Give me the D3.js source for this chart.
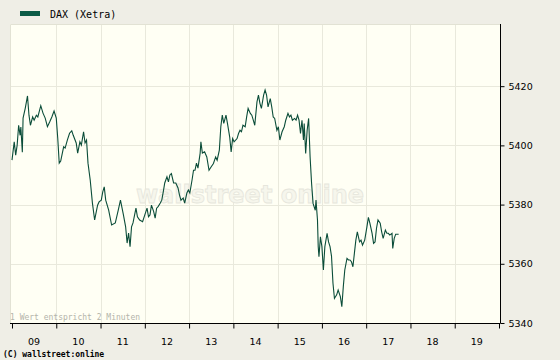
<!DOCTYPE html>
<html>
<head>
<meta charset="utf-8">
<script src="https://cdn.jsdelivr.net/npm/d3@7"></script>
<style>
  body { margin: 0; background: #efeee6; }
  svg { display: block; }
</style>
</head>
<body>
<div id="chart"></div>
<script>
// DAX (Xetra) intraday, minutes after 09:00 open and index level
var seriesName = "DAX (Xetra)";
var minutesAfterOpen = [
  0, 3, 5, 7, 9, 11, 12, 14, 15, 18, 21, 23, 25, 28, 30, 33, 35, 39, 42, 45,
  48, 51, 54, 57, 60, 62, 64, 66, 70, 72, 75, 78, 81, 83, 87, 89, 92, 94, 97, 99,
  101, 103, 106, 109, 112, 116, 118, 121, 123, 125, 127, 131, 135, 140, 144, 147, 151, 154, 156, 158,
  160, 162, 164, 168, 170, 173, 177, 180, 183, 185, 187, 189, 192, 194, 196, 198, 201, 203, 205, 207,
  210, 212, 214, 216, 219, 222, 225, 227, 229, 232, 234, 237, 239, 241, 244, 246, 248, 250, 252, 255,
  256, 258, 261, 264, 267, 270, 273, 276, 278, 281, 283, 285, 287, 290, 292, 295, 297, 299, 301, 305,
  307, 309, 311, 313, 316, 318, 320, 323, 325, 327, 329, 332, 334, 336, 338, 341, 343, 345, 347, 350,
  352, 354, 356, 359, 361, 363, 366, 369, 371, 374, 376, 378, 380, 383, 385, 387, 389, 391, 393, 395,
  396, 398, 400, 402, 404, 406, 408, 411, 412, 414, 415, 416, 418, 420, 422, 424, 427, 429, 431, 433,
  435, 437, 440, 442, 445, 447, 449, 451, 454, 456, 458, 460, 462, 464, 466, 468, 471, 473, 475, 478,
  481, 483, 485, 488, 490, 492, 494, 496, 499, 501, 503, 506, 508, 510, 512, 515, 516, 518, 520, 524
];
var values = [
  5395.0, 5401.2, 5396.7, 5400.1, 5406.8, 5403.4, 5406.2, 5397.7, 5409.2, 5412.6, 5416.7, 5410.2, 5406.8, 5409.6, 5408.5, 5410.2, 5409.6, 5413.4, 5410.9, 5409.2,
  5406.3, 5407.9, 5409.6, 5411.6, 5409.2, 5402.4, 5394.0, 5394.7, 5399.5, 5399.1, 5401.8, 5404.1, 5404.9, 5403.4, 5400.8, 5397.4, 5401.2, 5400.1, 5404.6, 5400.8,
  5401.8, 5394.0, 5388.3, 5380.5, 5374.8, 5379.8, 5380.9, 5381.5, 5384.3, 5386.0, 5381.5, 5378.1, 5373.1, 5373.8, 5378.1, 5381.5, 5376.5, 5372.5, 5367.0, 5370.4,
  5365.8, 5372.5, 5373.8, 5378.8, 5375.9, 5374.8, 5374.2, 5376.5, 5378.8, 5375.9, 5376.5, 5379.8, 5377.6, 5375.4, 5378.8, 5379.3, 5380.5, 5381.5, 5384.3, 5387.3,
  5389.4, 5387.7, 5390.0, 5390.5, 5387.3, 5387.3, 5385.6, 5383.2, 5381.5, 5382.2, 5380.5, 5383.9, 5384.9, 5383.9, 5388.3, 5391.6, 5391.6, 5394.0, 5392.3, 5397.4,
  5401.2, 5397.4, 5397.8, 5396.1, 5391.6, 5392.8, 5393.9, 5396.1, 5395.0, 5398.4, 5406.3, 5410.2, 5407.4, 5410.2, 5407.4, 5402.9, 5397.8, 5402.3, 5401.2, 5402.3,
  5404.0, 5405.1, 5404.6, 5406.8, 5406.3, 5409.6, 5412.5, 5410.8, 5410.2, 5408.5, 5406.8, 5414.7, 5417.0, 5414.2, 5412.5, 5417.0, 5418.7, 5417.0, 5413.0, 5415.8,
  5413.0, 5409.6, 5409.1, 5405.1, 5406.3, 5401.8, 5404.6, 5406.3, 5408.5, 5410.8, 5409.6, 5410.2, 5408.5, 5409.1, 5408.5, 5410.2, 5408.5, 5404.0, 5408.5, 5401.8,
  5407.4, 5397.3, 5405.1, 5409.1, 5396.1, 5387.2, 5380.4, 5378.1, 5381.5, 5374.8, 5365.8, 5362.4, 5369.1, 5365.8, 5357.9, 5365.8, 5370.3, 5367.4, 5365.8, 5362.6,
  5353.4, 5348.3, 5349.5, 5351.1, 5348.9, 5345.5, 5352.3, 5357.9, 5361.8, 5361.3, 5361.3, 5360.7, 5359.0, 5363.5, 5368.0, 5370.8, 5367.4, 5368.0, 5366.3, 5368.0,
  5372.5, 5375.7, 5373.7, 5370.3, 5366.9, 5367.4, 5372.0, 5374.8, 5373.7, 5370.8, 5368.6, 5371.4, 5370.3, 5370.3, 5369.7, 5370.3, 5365.2, 5368.6, 5370.0, 5370.0
];
var hourLabels = ["09", "10", "11", "12", "13", "14", "15", "16", "17", "18", "19"];
var yTicks = [5340, 5360, 5380, 5400, 5420];

var width = 560, height = 360;
var plot = { left: 10, right: 500, top: 24, bottom: 323 };

var svg = d3.select("#chart").append("svg")
    .attr("width", width)
    .attr("height", height);

svg.append("rect")
    .attr("width", width).attr("height", height)
    .attr("fill", "#efeee6");

// x: minutes after 09:00, one band per hour label
var x = d3.scaleLinear()
    .domain([0, hourLabels.length * 60])
    .range([plot.left + 2, plot.right - 1]);

var y = d3.scaleLinear()
    .domain([5340, 5441])
    .range([plot.bottom, plot.top]);

var hourEdges = d3.range(0, hourLabels.length + 1).map(function (i) { return i * 60; });

// plot background
svg.append("rect")
    .attr("x", plot.left)
    .attr("y", plot.top)
    .attr("width", plot.right - plot.left)
    .attr("height", plot.bottom - plot.top)
    .attr("fill", "#fffff4");

// grid
svg.append("g").selectAll("line")
    .data(hourEdges.slice(1, -1))
    .enter().append("line")
    .attr("x1", function (d) { return Math.round(x(d)) + 0.5; })
    .attr("x2", function (d) { return Math.round(x(d)) + 0.5; })
    .attr("y1", plot.top)
    .attr("y2", plot.bottom)
    .attr("stroke", "#e9e9dc");

svg.append("g").selectAll("line")
    .data(yTicks.slice(1))
    .enter().append("line")
    .attr("x1", plot.left)
    .attr("x2", plot.right)
    .attr("y1", function (d) { return Math.round(y(d)) + 0.5; })
    .attr("y2", function (d) { return Math.round(y(d)) + 0.5; })
    .attr("stroke", "#e9e9dc");

// frame (top / left light)
svg.append("path")
    .attr("d", "M" + (plot.left + 0.5) + "," + plot.bottom + "V" + (plot.top + 0.5) + "H" + plot.right)
    .attr("fill", "none")
    .attr("stroke", "#e2e2d4");

// watermark
svg.append("text")
    .attr("x", 250)
    .attr("y", 203)
    .attr("text-anchor", "middle")
    .attr("font-family", "DejaVu Sans")
    .attr("font-weight", "bold")
    .attr("font-size", 24)
    .attr("fill", "#f6f6ec")
    .attr("stroke", "#e6e6dc")
    .attr("stroke-width", 0.8)
    .text("wallstreet online");

// note
svg.append("text")
    .attr("x", 10)
    .attr("y", 320)
    .attr("font-family", "DejaVu Sans Mono")
    .attr("font-size", 8)
    .attr("fill", "#b4b4aa")
    .text("1 Wert entspricht 2 Minuten");

// line
var data = minutesAfterOpen.map(function (m, i) { return { m: m, v: values[i] }; });
svg.append("path")
    .datum(data)
    .attr("fill", "none")
    .attr("stroke", "#0b4d39")
    .attr("stroke-width", 1.1)
    .attr("d", d3.line()
        .x(function (d) { return x(d.m); })
        .y(function (d) { return y(d.v); }));

// bottom axis
var xAxis = svg.append("g")
    .attr("transform", "translate(0," + (plot.bottom + 0.5) + ")")
    .call(d3.axisBottom(x).tickValues(hourEdges).tickSize(5).tickSizeOuter(0).tickFormat(""));
xAxis.select(".domain").attr("d", "M" + plot.left + ",0H" + plot.right);
xAxis.selectAll("line").attr("stroke", "#000");

svg.append("g").selectAll("text")
    .data(hourLabels)
    .enter().append("text")
    .attr("x", function (d, i) { return x(i * 60 + 30); })
    .attr("y", 345)
    .attr("text-anchor", "middle")
    .attr("font-family", "DejaVu Sans")
    .attr("font-size", 9.5)
    .attr("fill", "#000")
    .text(function (d) { return d; });

// right axis
var yAxis = svg.append("g")
    .attr("transform", "translate(" + (plot.right + 0.5) + ",0)")
    .call(d3.axisRight(y).tickValues(yTicks).tickSize(4).tickSizeOuter(0).tickPadding(4).tickFormat(d3.format("d")));
yAxis.select(".domain").attr("d", "M0," + plot.top + "V" + (plot.bottom + 0.5));
yAxis.selectAll("text")
    .attr("font-family", "DejaVu Sans")
    .attr("font-size", 9.5)
    .attr("fill", "#000");

// legend
svg.append("rect")
    .attr("x", 20).attr("y", 11)
    .attr("width", 20).attr("height", 5)
    .attr("fill", "#0b5a45");
svg.append("text")
    .attr("x", 50).attr("y", 18)
    .attr("font-family", "DejaVu Sans Mono")
    .attr("font-size", 10)
    .attr("fill", "#000")
    .text(seriesName);

// copyright
svg.append("text")
    .attr("x", 3).attr("y", 357)
    .attr("font-family", "DejaVu Sans Mono")
    .attr("font-weight", "bold")
    .attr("font-size", 8)
    .attr("fill", "#000")
    .text("(C) wallstreet:online");
</script>
</body>
</html>
